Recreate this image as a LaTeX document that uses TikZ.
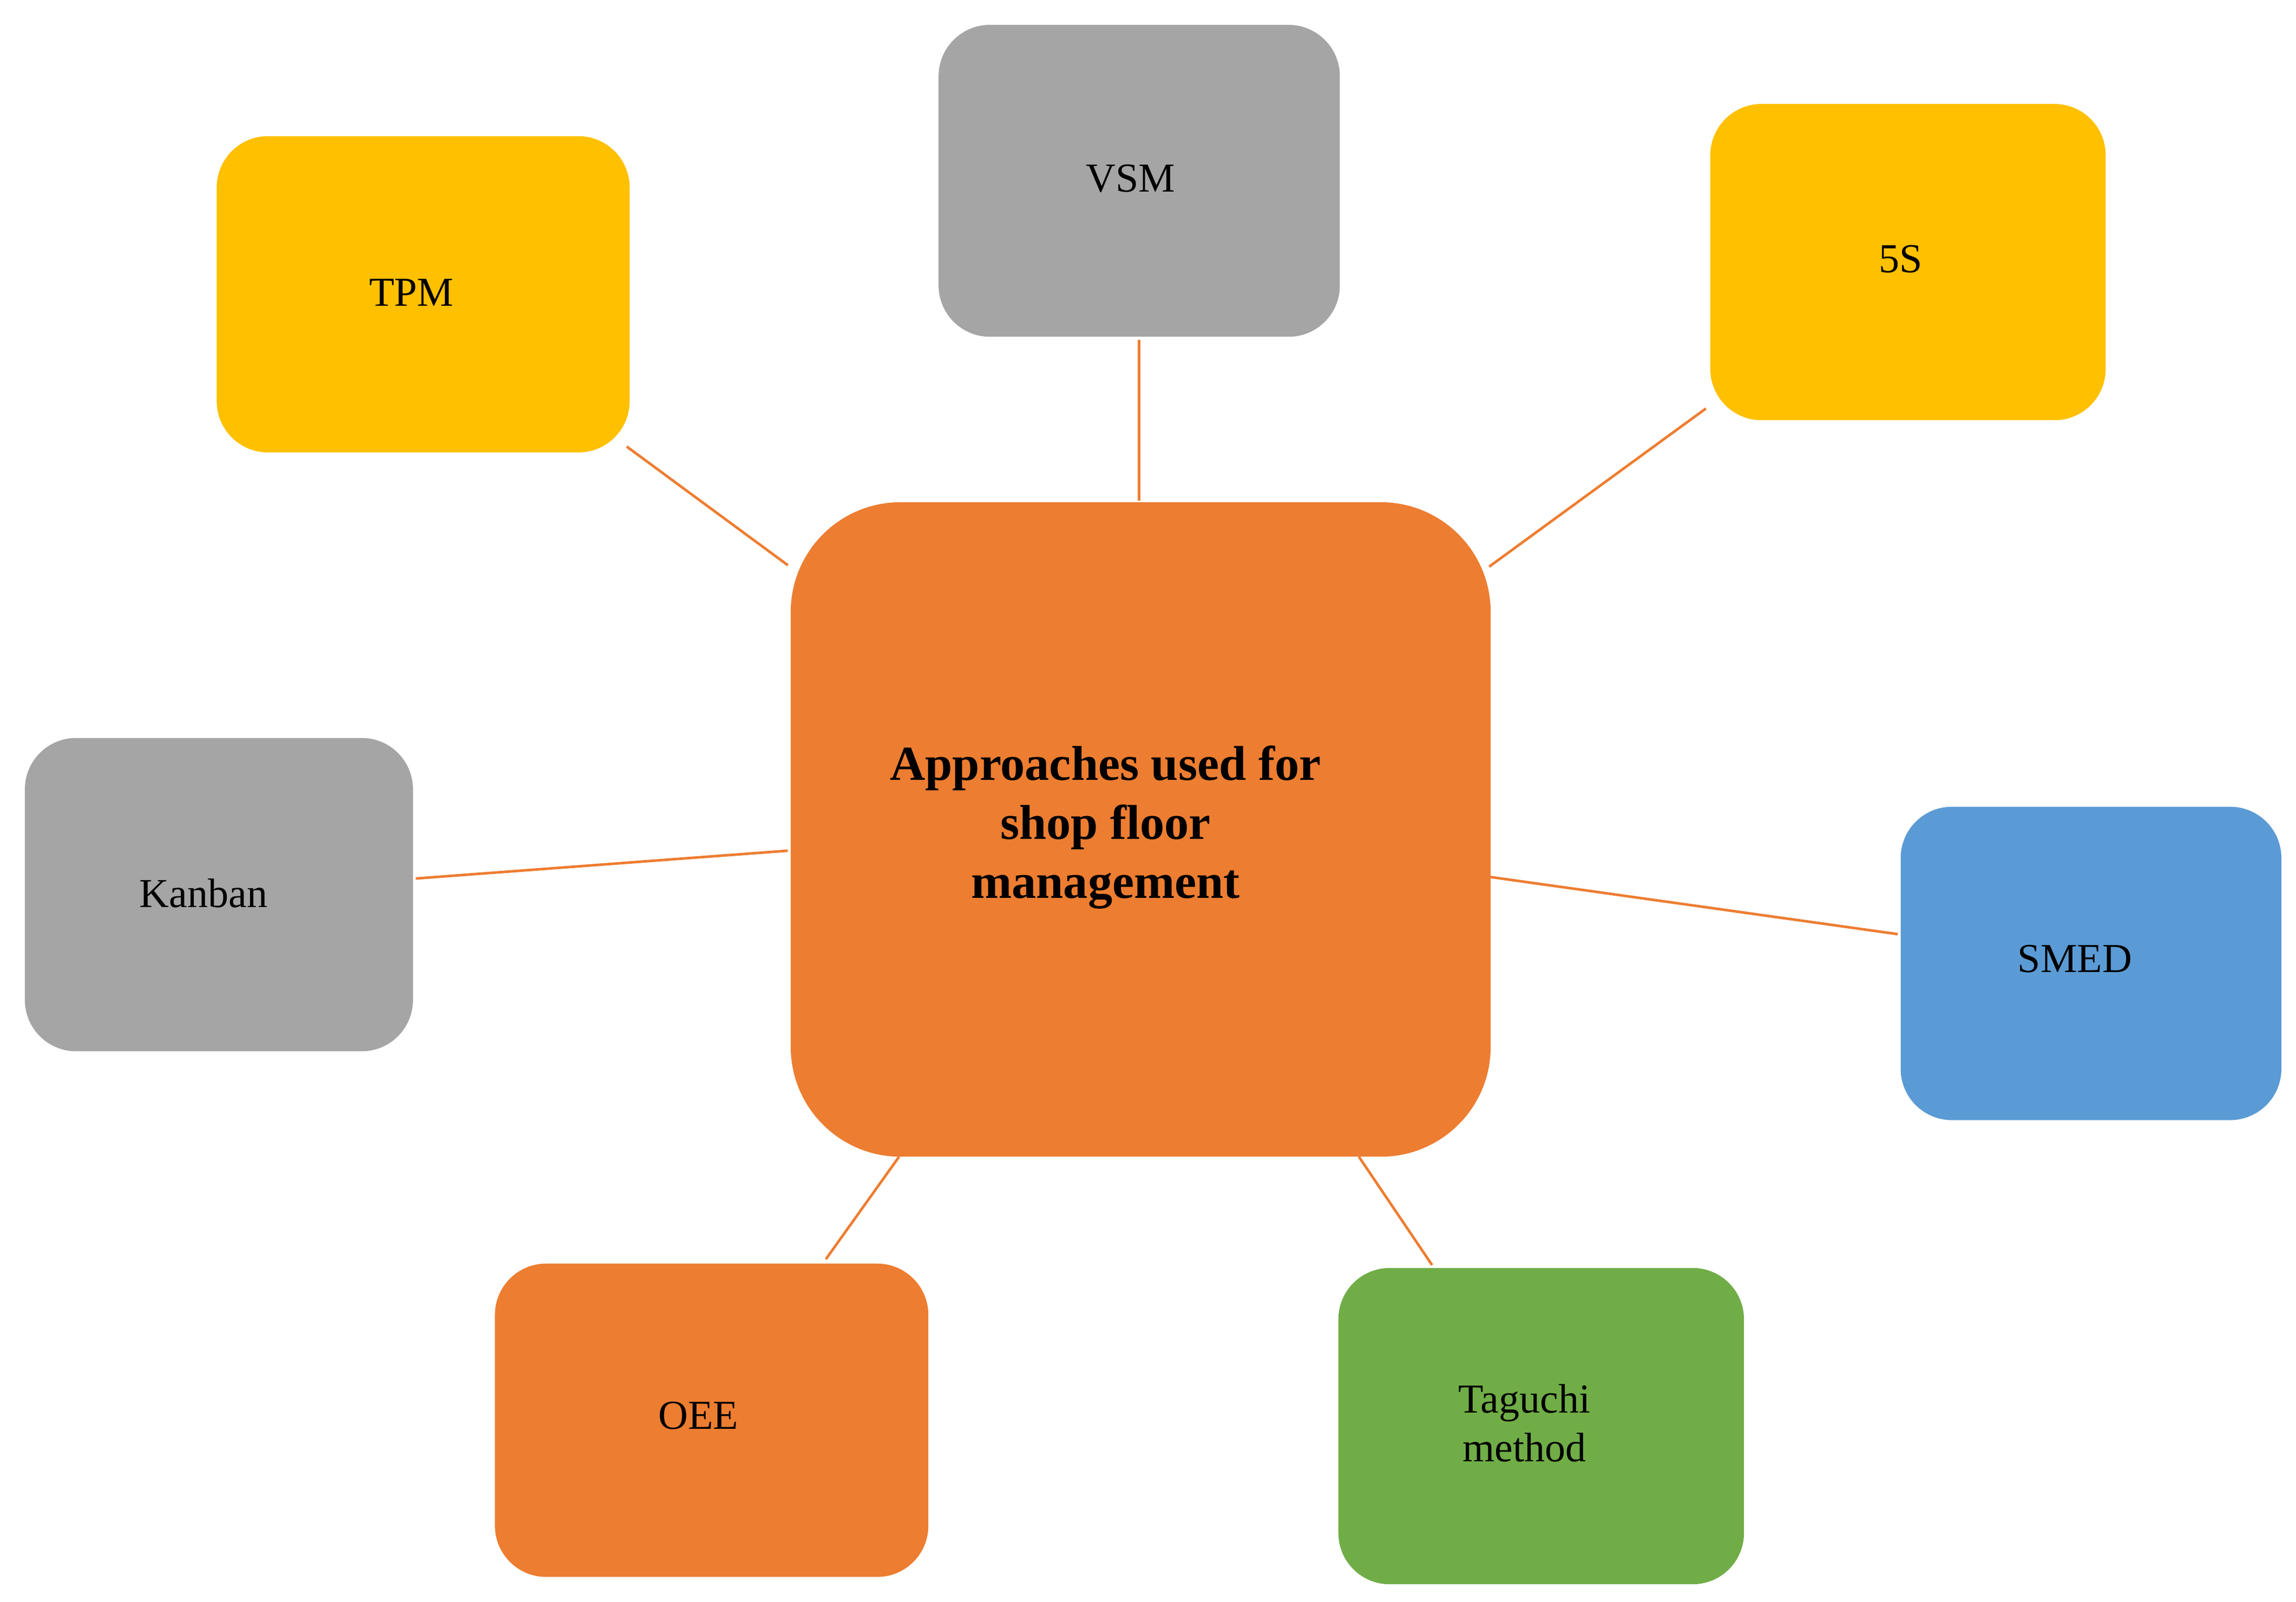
\documentclass[tikz,border=0pt]{standalone}
\usepackage{fontspec}
\setmainfont{Liberation Serif}
\definecolor{cOr}{HTML}{ED7D31}
\definecolor{cGr}{HTML}{A5A5A5}
\definecolor{cYe}{HTML}{FFC000}
\definecolor{cBl}{HTML}{5B9BD5}
\definecolor{cGn}{HTML}{70AD47}
\begin{document}
\begin{tikzpicture}[x=0.02cm,y=-0.02cm,
  box/.style={rounded corners=0.7cm},
  lbl/.style={font=\fontsize{16}{19}\selectfont,align=center},
  con/.style={cOr,line width=1pt}]
\useasboundingbox (0,0) rectangle (1568,1094);
\fill[cYe,box] (148,93) rectangle (430,309);
\fill[cGr,box] (641,17) rectangle (915,230);
\fill[cYe,box] (1168,71) rectangle (1438,287);
\fill[cGr,box] (17,504) rectangle (282,718);
\fill[cOr,rounded corners=1.5cm] (540,343) rectangle (1018,790);
\fill[cBl,box] (1298,551) rectangle (1558,765);
\fill[cOr,box] (338,863) rectangle (634,1077);
\fill[cGn,box] (914,866) rectangle (1191,1082);
\node[lbl] (tpm) at (281,200) {TPM};
\node[lbl] (vsm) at (772,122) {VSM};
\node[lbl] (fs) at (1298,177) {5S};
\node[lbl] (kan) at (139,610) {Kanban};
\node[lbl] (smed) at (1417,655) {SMED};
\node[lbl] (oee) at (477,967) {OEE};
\node[lbl] (tag) at (1041,972) {Taguchi\\method};
\node[lbl,font=\fontsize{19}{23}\selectfont\bfseries] (ctr) at (755,565) {Approaches used for\\shop floor\\management};
\coordinate (a1) at (428,305); \coordinate (a2) at (538,386);
\coordinate (b1) at (778,232); \coordinate (b2) at (778,342);
\coordinate (c1) at (1165,279); \coordinate (c2) at (1017,387);
\coordinate (d1) at (284,600); \coordinate (d2) at (538,581);
\coordinate (e1) at (1018,599); \coordinate (e2) at (1296,638);
\coordinate (f1) at (564,860); \coordinate (f2) at (614,790);
\coordinate (g1) at (978,864); \coordinate (g2) at (928,790);
\draw[con] (a1)--(a2); \draw[con] (b1)--(b2); \draw[con] (c1)--(c2);
\draw[con] (d1)--(d2); \draw[con] (e1)--(e2); \draw[con] (f1)--(f2); \draw[con] (g1)--(g2);
\end{tikzpicture}
\end{document}
